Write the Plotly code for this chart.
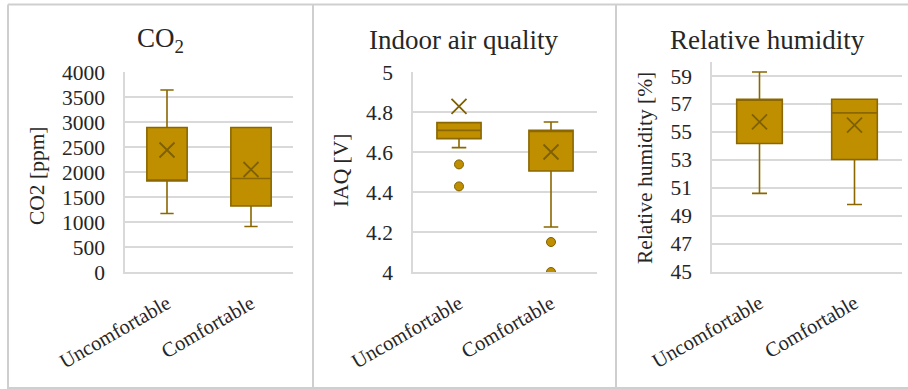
import plotly.graph_objects as go

W, H = 908, 389

categories = ["Uncomfortable", "Comfortable"]

# CO2 [ppm]
co2_lower = [1170, 910]
co2_q1 = [1820, 1320]
co2_median = [1820, 1870]
co2_q3 = [2890, 2890]
co2_upper = [3640, 2890]
co2_mean = [2440, 2050]
co2_out_x = []
co2_out_y = []

# IAQ [V]
iaq_lower = [4.622, 4.225]
iaq_q1 = [4.667, 4.505]
iaq_median = [4.708, 4.708]
iaq_q3 = [4.747, 4.708]
iaq_upper = [4.747, 4.75]
iaq_mean = [4.828, 4.60]
iaq_out_x = ["Uncomfortable", "Uncomfortable", "Comfortable", "Comfortable"]
iaq_out_y = [4.538, 4.428, 4.15, 4.0]

# Relative humidity [%]
rh_lower = [50.6, 49.81]
rh_q1 = [54.17, 53.03]
rh_median = [57.34, 56.36]
rh_q3 = [57.34, 57.34]
rh_upper = [59.29, 57.34]
rh_mean = [55.71, 55.48]
rh_out_x = []
rh_out_y = []

FILL = "#BF8F00"
EDGE = "#8A6700"
MEANC = "#7F6000"
GRID = "#D9D9D9"
FONT = "Liberation Serif"
TXT = "#262626"

panels = [
    dict(lower=co2_lower, q1=co2_q1, med=co2_median, q3=co2_q3, upper=co2_upper, mean=co2_mean,
         ox=co2_out_x, oy=co2_out_y, xpx=(125, 293), ypx=(72, 272), rng=[0, 4000], tick0=0, dtick=500,
         title="CO<sub>2</sub>", tx=160, ytitle="CO2 [ppm]", ytx=37, yty=176),
    dict(lower=iaq_lower, q1=iaq_q1, med=iaq_median, q3=iaq_q3, upper=iaq_upper, mean=iaq_mean,
         ox=iaq_out_x, oy=iaq_out_y, xpx=(413, 597), ypx=(72, 272), rng=[4, 5], tick0=4, dtick=0.2,
         title="Indoor air quality", tx=463, ytitle="IAQ [V]", ytx=341, yty=171),
    dict(lower=rh_lower, q1=rh_q1, med=rh_median, q3=rh_q3, upper=rh_upper, mean=rh_mean,
         ox=rh_out_x, oy=rh_out_y, xpx=(712, 902), ypx=(62, 271.7), rng=[45, 60], tick0=45, dtick=2,
         title="Relative humidity", tx=767, ytitle="Relative humidity [%]", ytx=645, yty=168),
]

fig = go.Figure()
annotations = []
layout_axes = {}

for i, p in enumerate(panels, start=1):
    xa = "x" if i == 1 else f"x{i}"
    ya = "y" if i == 1 else f"y{i}"
    fig.add_trace(go.Box(
        x=categories, q1=p["q1"], median=p["med"], q3=p["q3"],
        lowerfence=p["lower"], upperfence=p["upper"],
        fillcolor=FILL, line=dict(color=EDGE, width=1.6),
        whiskerwidth=0.33, width=0.48, boxpoints=False,
        xaxis=xa, yaxis=ya, showlegend=False, hoverinfo="skip",
    ))
    fig.add_trace(go.Scatter(
        x=categories, y=p["mean"], mode="markers",
        marker=dict(symbol="x-thin", size=15, line=dict(color=MEANC, width=1.8)),
        xaxis=xa, yaxis=ya, showlegend=False, hoverinfo="skip",
    ))
    if p["ox"]:
        fig.add_trace(go.Scatter(
            x=p["ox"], y=p["oy"], mode="markers",
            marker=dict(symbol="circle", size=9, color=FILL, line=dict(color=MEANC, width=1)),
            xaxis=xa, yaxis=ya, showlegend=False, hoverinfo="skip",
        ))
    x0, x1 = p["xpx"]
    yt, yb = p["ypx"]
    xkey = "xaxis" if i == 1 else f"xaxis{i}"
    ykey = "yaxis" if i == 1 else f"yaxis{i}"
    layout_axes[xkey] = dict(
        domain=[x0 / W, x1 / W], anchor=ya, type="category",
        categoryorder="array", categoryarray=categories, range=[-0.5, 1.5],
        showgrid=False, showline=True, linecolor=GRID, linewidth=1.5,
        tickangle=-30, ticks="outside", ticklen=10, tickcolor="rgba(0,0,0,0)",
        tickfont=dict(family=FONT, size=20.5, color=TXT), automargin=False, zeroline=False,
        fixedrange=True,
    )
    layout_axes[ykey] = dict(
        domain=[1 - yb / H, 1 - yt / H], anchor=xa, range=p["rng"],
        tick0=p["tick0"], dtick=p["dtick"], showgrid=True, gridcolor=GRID, gridwidth=1.5,
        showline=True, linecolor=GRID, linewidth=1.5, zeroline=False,
        ticks="outside", ticklen=14, tickcolor="rgba(0,0,0,0)",
        tickfont=dict(family=FONT, size=21.5, color=TXT), automargin=False,
        fixedrange=True,
    )
    annotations.append(dict(
        text=p["title"], x=p["tx"] / W, y=1 - 40 / H, xref="paper", yref="paper",
        xanchor="center", yanchor="middle", showarrow=False,
        font=dict(family=FONT, size=27, color=TXT),
    ))
    annotations.append(dict(
        text=p["ytitle"], x=p["ytx"] / W, y=1 - p["yty"] / H, xref="paper", yref="paper",
        xanchor="center", yanchor="middle", showarrow=False, textangle=-90,
        font=dict(family=FONT, size=21.5, color=TXT),
    ))

BORDER = "#CFCFCF"
shapes = []
def hline(y, xa, xb):
    shapes.append(dict(type="line", xref="paper", yref="paper", x0=xa / W, x1=xb / W,
                       y0=1 - y / H, y1=1 - y / H, line=dict(color=BORDER, width=2)))
def vline(x, ya, yb):
    shapes.append(dict(type="line", xref="paper", yref="paper", x0=x / W, x1=x / W,
                       y0=1 - ya / H, y1=1 - yb / H, line=dict(color=BORDER, width=2)))

hline(4.5, 8, 908)
hline(388, 8, 908)
vline(8, 4.5, 389)
vline(313, 4.5, 389)
vline(616, 4.5, 389)

fig.update_layout(
    width=W, height=H, margin=dict(l=0, r=0, t=0, b=0),
    paper_bgcolor="white", plot_bgcolor="white", template="none",
    annotations=annotations, shapes=shapes, showlegend=False,
    hovermode=False,
    **layout_axes,
)

fig.write_html(
    "out.html",
    config={"displayModeBar": False},
    post_script="document.body.style.margin='0';document.body.style.overflow='hidden';",
)
